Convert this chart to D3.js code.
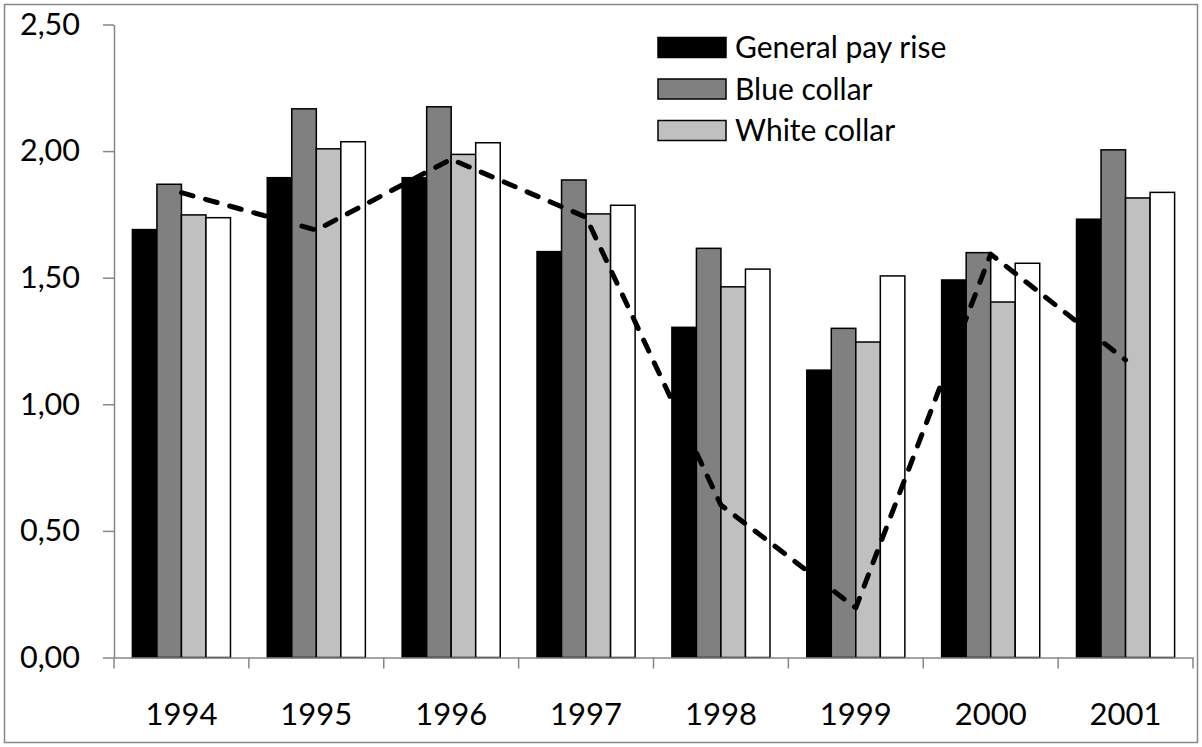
<!DOCTYPE html>
<html>
<head>
  <meta charset="utf-8" />
  <title>Pay rise chart</title>
  <script src="https://d3js.org/d3.v7.min.js"></script>
</head>
<body>
  <div id='graph'></div>
</body>
<style>
  body { margin: 0; background: #fff; }
  svg text { font-family: Lato, 'Open Sans', sans-serif; fill: #000; }
</style>
<script>
  // values
  var years = ['1994', '1995', '1996', '1997', '1998', '1999', '2000', '2001']
  var generalPayRise = [1.69, 1.895, 1.895, 1.603, 1.304, 1.135, 1.491, 1.731]
  var blueCollar = [1.869, 2.167, 2.175, 1.886, 1.616, 1.300, 1.599, 2.005]
  var whiteCollar = [1.748, 2.009, 1.987, 1.752, 1.464, 1.246, 1.404, 1.815]
  var fourthSeries = [1.737, 2.037, 2.033, 1.786, 1.534, 1.507, 1.557, 1.837]
  var lineValues = [1.836, 1.688, 1.968, 1.739, 0.602, 0.196, 1.593, 1.175]
  var yTicks = [0, 0.5, 1, 1.5, 2, 2.5]

  var seriesNames = ['General pay rise', 'Blue collar', 'White collar', '']
  var seriesValues = [generalPayRise, blueCollar, whiteCollar, fourthSeries]
  var seriesColors = ['#000000', '#808080', '#c0c0c0', '#ffffff']

  var width = 1202
  var height = 747

  const canvas = d3.select('#graph').append('svg')
    .attr('width', width)
    .attr('height', height)

  // chart frame
  canvas.append('rect')
    .attr('x', 4.5).attr('y', 4.5)
    .attr('width', 1193).attr('height', 738)
    .attr('fill', '#fff')
    .attr('stroke', '#878787')
    .attr('stroke-width', 1.5)

  var xScale = d3.scaleBand().domain(years).range([114, 1193]).padding(0)
  var xInner = d3.scaleBand().domain(d3.range(4)).range([0, xScale.bandwidth()])
    .paddingInner(0).paddingOuter(0.75)
  var yScale = d3.scaleLinear().domain([0, 2.5]).range([657.5, 24.5])

  var locale = d3.formatLocale({decimal: ',', thousands: '.', grouping: [3], currency: ['', '']})
  var fmt = locale.format('.2f')

  // bars
  var groups = canvas.append('g').selectAll('g')
    .data(seriesValues)
    .enter()
    .append('g')

  groups.each(function (vals, s) {
    d3.select(this).selectAll('rect')
      .data(vals)
      .enter()
      .append('rect')
      .attr('x', function (d, i) { return xScale(years[i]) + xInner(s) })
      .attr('y', function (d) { return yScale(d) })
      .attr('width', xInner.bandwidth())
      .attr('height', function (d) { return yScale(0) - yScale(d) })
      .attr('fill', seriesColors[s])
      .attr('stroke', '#000')
      .attr('stroke-width', 1.5)
  })

  // Y axis
  var yAxis = canvas.append('g')
    .attr('transform', 'translate(114,0)')
    .call(d3.axisLeft(yScale).tickValues(yTicks).tickFormat(fmt).tickSize(11).tickPadding(23).tickSizeOuter(0))
  yAxis.select('.domain').attr('stroke', '#878787').attr('stroke-width', 1.5)
  yAxis.selectAll('line').attr('stroke', '#878787').attr('stroke-width', 1.5)
  yAxis.selectAll('text').attr('font-size', 30.5).attr('font-family', null)

  // X axis: labels at centers, tick marks at category edges
  var xAxis = canvas.append('g')
    .attr('transform', 'translate(0,' + yScale(0) + ')')
    .call(d3.axisBottom(xScale).tickSize(0).tickSizeOuter(0))
  xAxis.select('.domain').attr('stroke', '#878787').attr('stroke-width', 1.5)
  xAxis.selectAll('text').attr('font-size', 31).attr('font-family', null)
    .attr('y', 67).attr('dy', null)

  var edges = years.map(function (d) { return xScale(d) }).concat([xScale.range()[1]])
  xAxis.selectAll('.edge')
    .data(edges)
    .enter()
    .append('line')
    .attr('class', 'edge')
    .attr('x1', function (d) { return d }).attr('x2', function (d) { return d })
    .attr('y1', 0).attr('y2', 11)
    .attr('stroke', '#878787')
    .attr('stroke-width', 1.5)

  // dashed line through the group centers
  var line = d3.line()
    .x(function (d, i) { return xScale(years[i]) + xScale.bandwidth() / 2 })
    .y(function (d) { return yScale(d) })

  canvas.append('path')
    .datum(lineValues)
    .attr('d', line)
    .attr('fill', 'none')
    .attr('stroke', '#000')
    .attr('stroke-width', 5)
    .attr('stroke-dasharray', '12,13')
    .attr('stroke-linecap', 'round')
    .attr('stroke-linejoin', 'round')

  // legend (three entries only, like the original)
  var legend = canvas.append('g')
    .selectAll('g')
    .data(seriesNames.slice(0, 3))
    .enter()
    .append('g')
    .attr('transform', function (d, i) { return 'translate(658,' + (37.5 + i * 41.5) + ')' })

  legend.append('rect')
    .attr('width', 68).attr('height', 20)
    .attr('fill', function (d, i) { return seriesColors[i] })
    .attr('stroke', '#000')
    .attr('stroke-width', 1.5)

  legend.append('text')
    .attr('x', 77).attr('y', 10)
    .attr('dy', '0.36em')
    .attr('font-size', 30)
    .text(function (d) { return d })
</script>
</html>
